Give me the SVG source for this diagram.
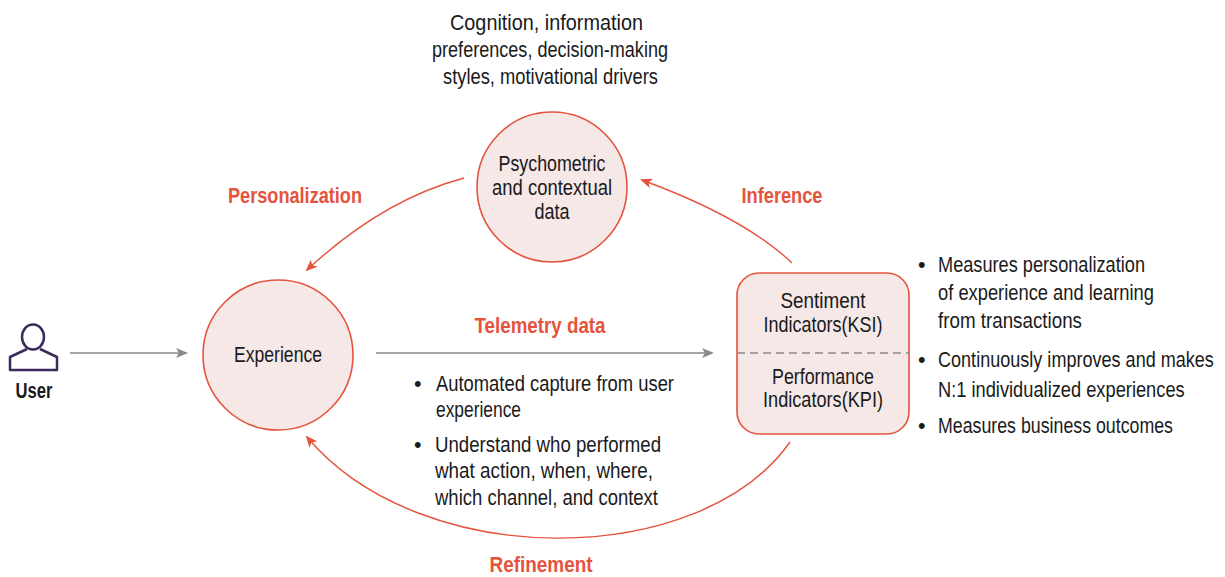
<svg xmlns="http://www.w3.org/2000/svg" width="1225" height="577" viewBox="0 0 1225 577">
<defs>
<style>
text{font-family:"Liberation Sans",Arial,sans-serif;font-size:21.5px;fill:#1a1a1a}
.c{text-anchor:middle}
.lbl{fill:#E5533D;font-weight:bold;text-anchor:middle;font-size:22px}
.node{fill:#F5E8E7;stroke:#E5533D;stroke-width:1.6}
.red{fill:none;stroke:#E5533D;stroke-width:1.4}
.gray{fill:none;stroke:#888;stroke-width:1.4}
</style>
<marker id="ar" viewBox="0 0 12 10" refX="10" refY="5" markerWidth="12" markerHeight="10" markerUnits="userSpaceOnUse" orient="auto">
<path d="M0,0 L12,5 L0,10 L3,5 Z" fill="#E5533D"/>
</marker>
<marker id="ag" viewBox="0 0 12 10" refX="10" refY="5" markerWidth="12" markerHeight="10" markerUnits="userSpaceOnUse" orient="auto">
<path d="M0,0 L12,5 L0,10 L3,5 Z" fill="#888"/>
</marker>
</defs>
<rect width="1225" height="577" fill="#fff"/>

<g id="connectors">
<line class="gray" x1="70" y1="353" x2="186" y2="353" marker-end="url(#ag)"/>
<line class="gray" x1="376" y1="353" x2="712" y2="353" marker-end="url(#ag)"/>
<path class="red" d="M464,178 Q382,200 307,270" marker-end="url(#ar)"/>
<path class="red" d="M792,263 Q745,218 642,180" marker-end="url(#ar)"/>
<path class="red" d="M790,442 C700,570 420,572 307,437" marker-end="url(#ar)"/>
</g>

<g id="user">
<ellipse cx="33" cy="337" rx="11" ry="12.5" fill="none" stroke="#3D2A5C" stroke-width="2.5"/>
<path d="M27,349 L10,357 L10,370 L57,370 L57,357 L40,349" fill="none" stroke="#3D2A5C" stroke-width="2.5" stroke-linejoin="round"/>
<text class="c" x="34" y="398" style="font-weight:bold;font-size:22px" textLength="37" lengthAdjust="spacingAndGlyphs">User</text>
</g>

<g id="experience">
<circle class="node" cx="278" cy="355" r="75"/>
<text class="c" x="278" y="362" textLength="88" lengthAdjust="spacingAndGlyphs">Experience</text>
</g>

<g id="psychometric">
<circle class="node" cx="552" cy="187" r="75"/>
<text class="c" x="552" y="171" textLength="107" lengthAdjust="spacingAndGlyphs">Psychometric</text>
<text class="c" x="552" y="195" textLength="120" lengthAdjust="spacingAndGlyphs">and contextual</text>
<text class="c" x="552" y="219" textLength="35" lengthAdjust="spacingAndGlyphs">data</text>
</g>

<g id="indicators">
<rect class="node" x="737" y="273" width="172" height="161" rx="22"/>
<line x1="737" y1="353" x2="909" y2="353" stroke="#888" stroke-width="1.4" stroke-dasharray="8,5"/>
<text class="c" x="823" y="308" textLength="85" lengthAdjust="spacingAndGlyphs">Sentiment</text>
<text class="c" x="823" y="332" textLength="119" lengthAdjust="spacingAndGlyphs">Indicators(KSI)</text>
<text class="c" x="823" y="384" textLength="102" lengthAdjust="spacingAndGlyphs">Performance</text>
<text class="c" x="823" y="407" textLength="120" lengthAdjust="spacingAndGlyphs">Indicators(KPI)</text>
</g>

<g id="top-note">
<text x="450" y="30" textLength="193" lengthAdjust="spacingAndGlyphs">Cognition, information</text>
<text x="432" y="57" textLength="236" lengthAdjust="spacingAndGlyphs">preferences, decision-making</text>
<text x="443" y="84" textLength="215" lengthAdjust="spacingAndGlyphs">styles, motivational drivers</text>
</g>

<g id="labels">
<text class="lbl" x="295" y="203" textLength="134" lengthAdjust="spacingAndGlyphs">Personalization</text>
<text class="lbl" x="782" y="203" textLength="81" lengthAdjust="spacingAndGlyphs">Inference</text>
<text class="lbl" x="540" y="333" textLength="131" lengthAdjust="spacingAndGlyphs">Telemetry data</text>
<text class="lbl" x="541" y="572" textLength="103" lengthAdjust="spacingAndGlyphs">Refinement</text>
</g>

<g id="telemetry-notes">
<text x="414" y="391">•</text>
<text x="436" y="391" textLength="238" lengthAdjust="spacingAndGlyphs">Automated capture from user</text>
<text x="436" y="417" textLength="85" lengthAdjust="spacingAndGlyphs">experience</text>
<text x="414" y="452">•</text>
<text x="435" y="452" textLength="226" lengthAdjust="spacingAndGlyphs">Understand who performed</text>
<text x="435" y="478" textLength="218" lengthAdjust="spacingAndGlyphs">what action, when, where,</text>
<text x="435" y="505" textLength="223" lengthAdjust="spacingAndGlyphs">which channel, and context</text>
</g>

<g id="indicator-notes">
<text x="918" y="272">•</text>
<text x="938" y="272" textLength="207" lengthAdjust="spacingAndGlyphs">Measures personalization</text>
<text x="938" y="300" textLength="216" lengthAdjust="spacingAndGlyphs">of experience and learning</text>
<text x="938" y="328" textLength="144" lengthAdjust="spacingAndGlyphs">from transactions</text>
<text x="918" y="367">•</text>
<text transform="translate(938,367) scale(0.84,1)" x="0" y="0">Continuously improves and makes</text>
<text transform="translate(938,397) scale(0.85,1)" x="0" y="0">N:1 individualized experiences</text>
<text x="918" y="433">•</text>
<text x="938" y="433" textLength="235" lengthAdjust="spacingAndGlyphs">Measures business outcomes</text>
</g>
</svg>
